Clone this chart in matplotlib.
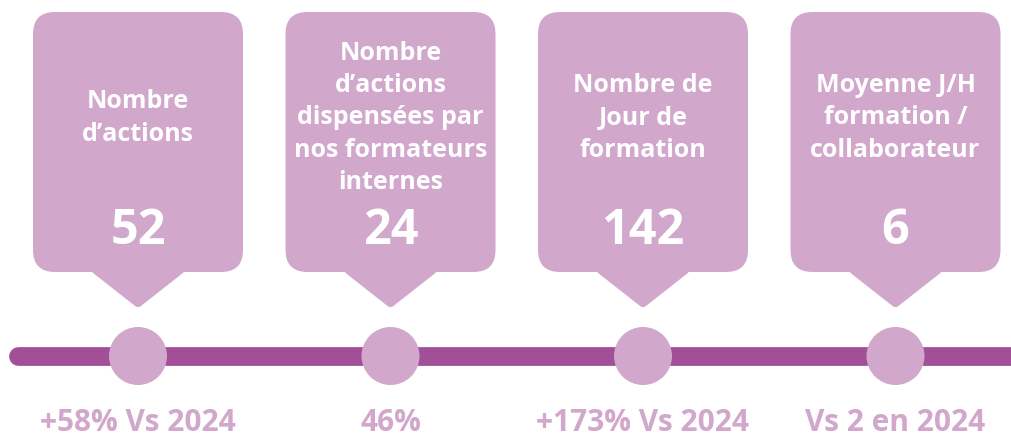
import matplotlib
matplotlib.use("Agg")
import matplotlib.pyplot as plt
from matplotlib.patches import FancyBboxPatch, Polygon, Circle

plt.rcParams["font.family"] = ["Open Sans", "DejaVu Sans"]

titles = ["Nombre\nd\u2019actions",
          "Nombre\nd\u2019actions\ndispensées par\nnos formateurs\ninternes",
          "Nombre de\nJour de\nformation",
          "Moyenne J/H\nformation /\ncollaborateur"]
values = ["52", "24", "142", "6"]
notes = ["+58% Vs 2024", "46%", "+173% Vs 2024", "Vs 2 en 2024"]

light = "#d1a7cb"
dark = "#a24f98"

fig = plt.figure(figsize=(10.12, 4.37), dpi=100)
ax = fig.add_axes([0, 0, 1, 1])
ax.set_xlim(0, 1012)
ax.set_ylim(437, 0)
ax.axis("off")

# timeline
line_y = 356
ax.plot([18, 1030], [line_y, line_y], color=dark, lw=13.5, solid_capstyle="round", zorder=1)

x0, step = 138, 252.5
box_w, box_h, box_top = 210, 260, 12
for i, (t, v, n) in enumerate(zip(titles, values, notes)):
    cx = x0 + i * step
    box = FancyBboxPatch((cx - box_w / 2 + 22, box_top + 22), box_w - 44, box_h - 44,
                         boxstyle="round,pad=22", fc=light, ec="none", zorder=2)
    ax.add_patch(box)
    tail = Polygon([(cx - 42, box_top + box_h - 2), (cx + 42, box_top + box_h - 2),
                    (cx, box_top + box_h + 31)], closed=True, fc=light, ec=light,
                   lw=6, joinstyle="round", zorder=2)
    ax.add_patch(tail)
    ax.add_patch(Circle((cx, line_y), 29, fc=light, ec="none", zorder=3))
    ax.text(cx, 118, t, ha="center", va="center", color="white", fontsize=18,
            fontweight="bold", linespacing=1.37, zorder=4)
    ax.text(cx, 231, v, ha="center", va="center", color="white", fontsize=35,
            fontweight="bold", zorder=4)
    ax.text(cx, 423, n, ha="center", va="center", color=light, fontsize=21.5,
            fontweight="bold", zorder=4)

fig.savefig("out.png", dpi=100)
